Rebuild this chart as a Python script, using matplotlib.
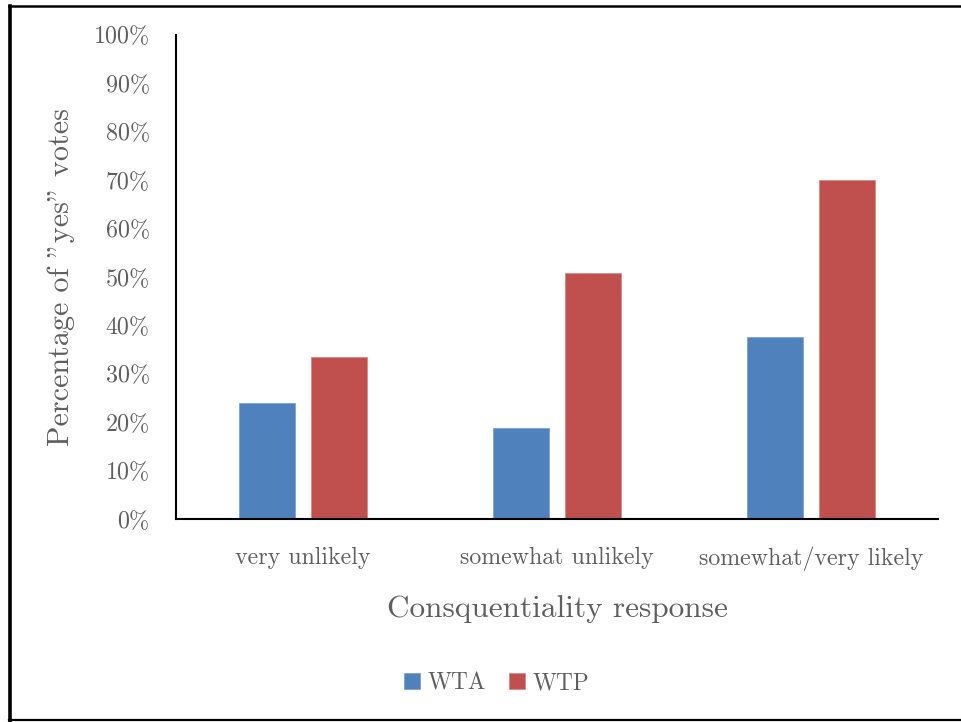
import numpy as np
import matplotlib
matplotlib.use('Agg')
import matplotlib.pyplot as plt
from matplotlib.lines import Line2D

# data
categories = ['very unlikely', 'somewhat unlikely', 'somewhat/very likely']
wta = [24.0, 18.8, 37.6]
wtp = [33.5, 50.9, 70.1]
yticks = list(range(0, 101, 10))

plt.rcParams['font.family'] = ['cmr10', 'DejaVu Serif']
plt.rcParams['axes.formatter.use_mathtext'] = True

grey = '#5f5f5f'
blue = '#4F81BD'
red = '#C0504D'

fig = plt.figure(figsize=(9.62, 7.22), dpi=100)
ax = fig.add_axes([0.183, 0.281, 0.792, 0.6705])

x = np.arange(len(categories))
w = 0.22
off = 0.142
ax.bar(x - off, wta, w, color=blue, edgecolor='#7FA3D3', linewidth=0.6, label='WTA')
ax.bar(x + off, wtp, w, color=red, edgecolor='#D98A88', linewidth=0.6, label='WTP')

ax.set_xlim(-0.5, len(categories) - 0.5)
ax.set_ylim(0, 100)
ax.set_yticks(yticks)
ax.set_yticklabels([f'{v}%' for v in yticks])
ax.set_xticks(x)
ax.set_xticklabels(categories)
ax.tick_params(axis='y', length=0, pad=19, labelsize=17.3, labelcolor=grey)
ax.tick_params(axis='x', length=0, pad=20, labelsize=17.2, labelcolor=grey)

for s in ['top', 'right']:
    ax.spines[s].set_visible(False)
for s in ['left', 'bottom']:
    ax.spines[s].set_linewidth(1.5)
    ax.spines[s].set_color('black')

ax.set_ylabel('Percentage of "yes" votes', fontsize=21.7, color=grey, labelpad=13)
ax.set_xlabel('Consquentiality response', fontsize=22.5, color=grey, labelpad=17)

fig.legend(loc='center', bbox_to_anchor=(0.516, 0.054), ncol=2, frameon=False,
           fontsize=16.8, handlelength=0.7, handleheight=0.7, handletextpad=0.3,
           columnspacing=1.0, labelcolor=grey)

# outer frame (top, left, bottom)
fig.add_artist(Line2D([0.009, 1.0], [0.992, 0.992], transform=fig.transFigure,
                      color='black', linewidth=1.8))
fig.add_artist(Line2D([0.010, 0.010], [0.002, 0.992], transform=fig.transFigure,
                      color='black', linewidth=2.6))
fig.add_artist(Line2D([0.009, 1.0], [0.003, 0.003], transform=fig.transFigure,
                      color='black', linewidth=1.6))

fig.savefig('out.png', dpi=100)
